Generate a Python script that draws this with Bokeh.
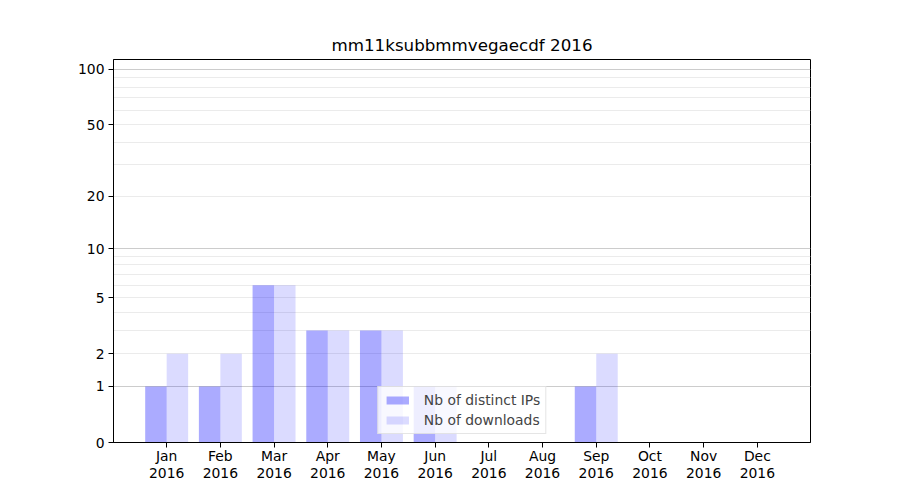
import numpy as np
from bokeh.plotting import figure
from bokeh.models import FixedTicker, Grid, Range1d, ColumnDataSource, Legend, LegendItem
from bokeh.embed import file_html
from bokeh.resources import INLINE

title_text = "mm11ksubbmmvegaecdf 2016"
months = ["Jan", "Feb", "Mar", "Apr", "May", "Jun", "Jul", "Aug", "Sep", "Oct", "Nov", "Dec"]
year = "2016"
distinct_ips = [1, 1, 6, 3, 3, 1, 0, 0, 1, 0, 0, 0]
downloads = [2, 2, 6, 3, 3, 1, 0, 0, 2, 0, 0, 0]
y_tick_values = [0, 1, 2, 5, 10, 20, 50, 100]
y_major_grid = [1, 10, 100]
y_minor_grid = [2, 3, 4, 5, 6, 7, 8, 9, 20, 30, 40, 50, 60, 70, 80, 90]
y_max = 113.3

def tr(v):
    return np.log10(1.0 + np.asarray(v, dtype=float))

FONT = "DejaVu Sans"
idx = np.arange(len(months))

p = figure(width=884, height=484, output_backend="svg", toolbar_location=None,
           x_range=Range1d(-0.99, 11.99), y_range=Range1d(0, float(tr(y_max))),
           min_border_left=113, min_border_right=74, min_border_top=59, min_border_bottom=39)

p.title.text = title_text
p.title.text_font = FONT
p.title.text_font_size = "16.7px"
p.title.text_font_style = "normal"
p.title.align = "center"
p.title.standoff = 9
p.title.text_color = "#000000"

p.outline_line_color = "#000000"
p.outline_line_width = 1
p.outline_line_alpha = 1

# grids
p.xgrid.visible = False
p.ygrid.ticker = FixedTicker(ticks=list(tr(y_major_grid)))
p.ygrid.grid_line_color = "#cccccc"
p.ygrid.grid_line_width = 1
minor = Grid(dimension=1, ticker=FixedTicker(ticks=list(tr(y_minor_grid))),
             grid_line_color="#ebebeb", grid_line_width=1)
p.add_layout(minor)

src = ColumnDataSource(dict(x_ip=idx - 0.2, x_dl=idx + 0.2,
                            ip=tr(distinct_ips), dl=tr(downloads)))
r1 = p.vbar(x="x_ip", top="ip", bottom=0, width=0.4, source=src,
            fill_color="blue", fill_alpha=0.33, line_color=None)
r2 = p.vbar(x="x_dl", top="dl", bottom=0, width=0.4, source=src,
            fill_color="blue", fill_alpha=0.14, line_color=None)

# axes
xa = p.xaxis[0]
xa.ticker = FixedTicker(ticks=list(idx))
xa.major_label_overrides = {int(i): f"{m}\n{year}" for i, m in zip(idx, months)}
xa.major_label_standoff = 0
xa.major_label_text_line_height = 1.12
ya = p.yaxis[0]
yt = list(tr(y_tick_values))
ya.ticker = FixedTicker(ticks=yt)
ya.major_label_overrides = {float(t): str(v) for t, v in zip(yt, y_tick_values)}
ya.major_label_standoff = 4
for ax in (xa, ya):
    ax.axis_line_color = "#000000"
    ax.major_tick_line_color = "#000000"
    ax.major_tick_out = 5
    ax.major_tick_in = 0
    ax.minor_tick_line_color = None
    ax.major_label_text_font = FONT
    ax.major_label_text_font_size = "13.9px"
    ax.major_label_text_color = "#000000"

legend = Legend(items=[LegendItem(label="Nb of distinct IPs", renderers=[r1]),
                       LegendItem(label="Nb of downloads", renderers=[r2])],
                location="bottom_center", margin=8, padding=5, spacing=4,
                glyph_width=28, glyph_height=10, label_height=16, label_standoff=13,
                label_text_font=FONT, label_text_font_size="13.9px",
                border_line_color="#cccccc", background_fill_alpha=0.8)
p.add_layout(legend)

open("out.html", "w").write(file_html(p, INLINE))
